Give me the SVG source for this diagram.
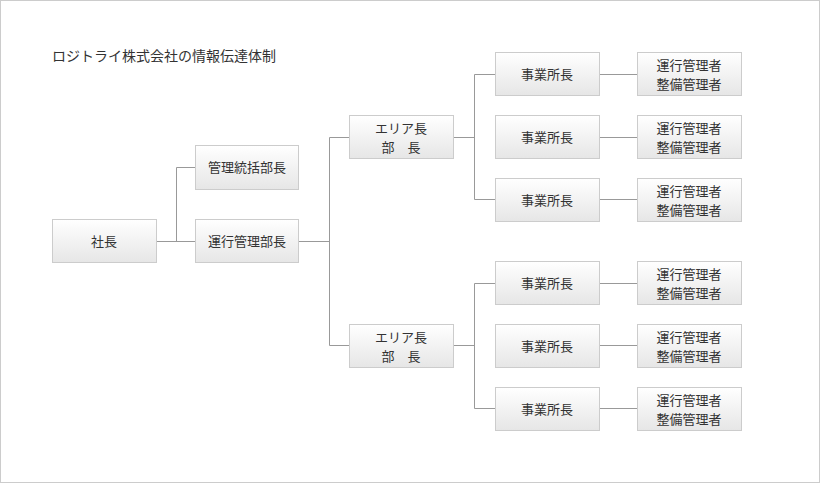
<svg xmlns="http://www.w3.org/2000/svg" width="820" height="483" viewBox="0 0 820 483">
<defs><linearGradient id="g" x1="0" y1="0" x2="0" y2="1"><stop offset="0" stop-color="#ffffff"/><stop offset="1" stop-color="#e6e6e6"/></linearGradient></defs>
<style>
.b{fill:url(#g);stroke:#cccccc;stroke-width:1}
text{font-family:"Noto Sans CJK JP",sans-serif;font-size:13px;fill:#333;text-anchor:middle}
.c{fill:none;stroke:#999;stroke-width:1}
</style>
<rect x="0.5" y="0.5" width="819" height="482" fill="#fff" stroke="#cccccc"/>
<text x="52" y="61" style="text-anchor:start;font-size:14px">ロジトライ株式会社の情報伝達体制</text>
<g id="connectors" class="c">
<path d="M156.5 241.5H195.5M176.5 241.5V167.5H195.5M298.5 241.5H329.5M329.5 137.5V345.5M329.5 137.5H349.5M329.5 345.5H349.5"/>
<path d="M453.5 137.5H474.5M474.5 74.5V199.5M474.5 74.5H495.5M474.5 199.5H495.5"/>
<path d="M453.5 345.5H474.5M474.5 283.5V408.5M474.5 283.5H495.5M474.5 408.5H495.5"/>
<path d="M599.5 74.5H637.5M599.5 137.5H637.5M599.5 199.5H637.5M599.5 283.5H637.5M599.5 345.5H637.5M599.5 408.5H637.5"/>
</g>
<g id="n1"><rect class="b" x="52.5" y="219.5" width="104" height="43"/><text x="104" y="246">社長</text></g>
<g id="n2"><rect class="b" x="195.5" y="145.5" width="103" height="44"/><text x="247" y="172">管理統括部長</text></g>
<g id="n3"><rect class="b" x="195.5" y="219.5" width="103" height="43"/><text x="247" y="246">運行管理部長</text></g>
<g id="n4"><rect class="b" x="349.5" y="115.5" width="104" height="43"/><text x="401" y="133">エリア長</text><text x="401" y="152">部　長</text></g>
<g id="n5"><rect class="b" x="349.5" y="324.5" width="104" height="43"/><text x="401" y="342">エリア長</text><text x="401" y="361">部　長</text></g>
<g id="e1"><rect class="b" x="495.5" y="52.5" width="104" height="43"/><text x="547" y="79">事業所長</text></g>
<g id="e2"><rect class="b" x="495.5" y="115.5" width="104" height="43"/><text x="547" y="142">事業所長</text></g>
<g id="e3"><rect class="b" x="495.5" y="178.5" width="104" height="43"/><text x="547" y="205">事業所長</text></g>
<g id="e4"><rect class="b" x="495.5" y="261.5" width="104" height="43"/><text x="547" y="288">事業所長</text></g>
<g id="e5"><rect class="b" x="495.5" y="324.5" width="104" height="43"/><text x="547" y="351">事業所長</text></g>
<g id="e6"><rect class="b" x="495.5" y="387.5" width="104" height="43"/><text x="547" y="414">事業所長</text></g>
<g id="m1"><rect class="b" x="637.5" y="52.5" width="104" height="43"/><text x="689" y="70">運行管理者</text><text x="689" y="89">整備管理者</text></g>
<g id="m2"><rect class="b" x="637.5" y="115.5" width="104" height="43"/><text x="689" y="133">運行管理者</text><text x="689" y="152">整備管理者</text></g>
<g id="m3"><rect class="b" x="637.5" y="178.5" width="104" height="43"/><text x="689" y="196">運行管理者</text><text x="689" y="215">整備管理者</text></g>
<g id="m4"><rect class="b" x="637.5" y="261.5" width="104" height="43"/><text x="689" y="279">運行管理者</text><text x="689" y="298">整備管理者</text></g>
<g id="m5"><rect class="b" x="637.5" y="324.5" width="104" height="43"/><text x="689" y="342">運行管理者</text><text x="689" y="361">整備管理者</text></g>
<g id="m6"><rect class="b" x="637.5" y="387.5" width="104" height="43"/><text x="689" y="405">運行管理者</text><text x="689" y="424">整備管理者</text></g>
</svg>
